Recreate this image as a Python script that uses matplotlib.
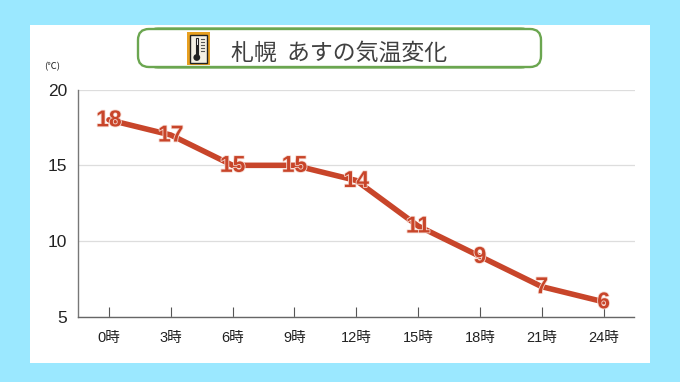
import matplotlib
matplotlib.use("Agg")
import matplotlib.pyplot as plt
import matplotlib.patheffects as pe
from matplotlib.patches import FancyBboxPatch, Rectangle, Circle

plt.rcParams['font.family'] = ['Liberation Sans', 'Noto Sans CJK JP']

hours = ["0時", "3時", "6時", "9時", "12時", "15時", "18時", "21時", "24時"]
temps = [18, 17, 15, 15, 14, 11, 9, 7, 6]
yticks = [5, 10, 15, 20]
title = "札幌  あすの気温変化"
unit = "(℃)"

W, H = 680, 382
BG = '#9BE8FF'
RED = '#C8452A'


def px_rect(x0, y0, x1, y1):
    # pixel box (y from top) to figure fraction
    return [x0 / W, 1 - y1 / H, (x1 - x0) / W, (y1 - y0) / H]


def add_panel(fig):
    x, y, w, h = px_rect(30, 25, 650, 363)
    fig.add_artist(Rectangle((x, y), w, h, transform=fig.transFigure, fc='white', ec='none', zorder=0))


def add_header(fig):
    # overlay axes in pixel units for the title box and the icon
    ov = fig.add_axes([0, 0, 1, 1], zorder=5)
    ov.set_xlim(0, W)
    ov.set_ylim(H, 0)
    ov.axis('off')
    ov.add_patch(FancyBboxPatch((147, 28.5), 385, 39, boxstyle="round,pad=0,rounding_size=11",
                                fc='white', ec='#6BA650', lw=1.6, mutation_aspect=1))
    ov.add_patch(FancyBboxPatch((138, 29), 403, 38, boxstyle="round,pad=0,rounding_size=11",
                                fc='white', ec='#6BA650', lw=1.7))
    # thermometer icon
    ov.add_patch(Rectangle((186.5, 32), 23, 33, fc='#E8A020', ec='none'))
    ov.add_patch(Rectangle((189.5, 34.5), 17, 28, fc='#F4F0E4', ec='#222222', lw=1))
    ov.add_patch(Rectangle((195.5, 37.5), 2.6, 18, fc='white', ec='#222222', lw=0.8))
    ov.add_patch(Rectangle((195.8, 45), 2, 12, fc='#222222', ec='none'))
    ov.add_patch(Circle((196.8, 57.5), 3.4, fc='#222222', ec='none'))
    for ty in [39, 42, 45, 48, 51]:
        ov.plot([201, 204], [ty, ty], color='#555555', lw=0.8)
    ov.text(231, 53, title, fontsize=16.5, color='#404040', va='center', ha='left',
            family=['Noto Sans CJK JP', 'DejaVu Sans'])
    ov.text(52, 67, unit, fontsize=6.8, color='#222222', va='center', ha='center',
            family=['Noto Sans CJK JP', 'DejaVu Sans'])


def plot_chart(ax):
    xs = list(range(len(hours)))
    ax.plot(xs, temps, color=RED, lw=4, solid_capstyle='round', solid_joinstyle='miter', zorder=3)
    for x, t in zip(xs, temps):
        ax.text(x, t, str(t), color=RED, fontsize=16.5, fontweight='bold', ha='center', va='center',
                path_effects=[pe.withStroke(linewidth=1.2, foreground='#F6D9D0')], zorder=4, clip_on=False)

    ax.set_xlim(-0.5, 8.5)
    ax.set_ylim(5, 20)
    ax.set_xticks(xs, labels=hours)
    ax.set_yticks(yticks)
    ax.grid(axis='y', color='#DDDDDD', lw=0.9)
    ax.set_axisbelow(True)
    ax.spines['top'].set_visible(False)
    ax.spines['right'].set_visible(False)
    ax.spines['left'].set_color('#777777')
    ax.spines['bottom'].set_color('#666666')
    ax.spines['left'].set_linewidth(1.0)
    ax.spines['bottom'].set_linewidth(1.0)
    ax.tick_params(axis='x', direction='in', length=7, width=0.8, color='#555555', labelsize=10.5,
                   labelcolor='#222222', pad=10)
    ax.tick_params(axis='y', length=0, labelsize=12.5, labelcolor='#222222', pad=8)


fig = plt.figure(figsize=(W / 100, H / 100), dpi=100, facecolor=BG)
add_panel(fig)
ax = fig.add_axes(px_rect(78, 89.5, 634.5, 317))
ax.patch.set_alpha(0)
plot_chart(ax)
add_header(fig)
plt.savefig("out.png", dpi=100, facecolor=BG)
